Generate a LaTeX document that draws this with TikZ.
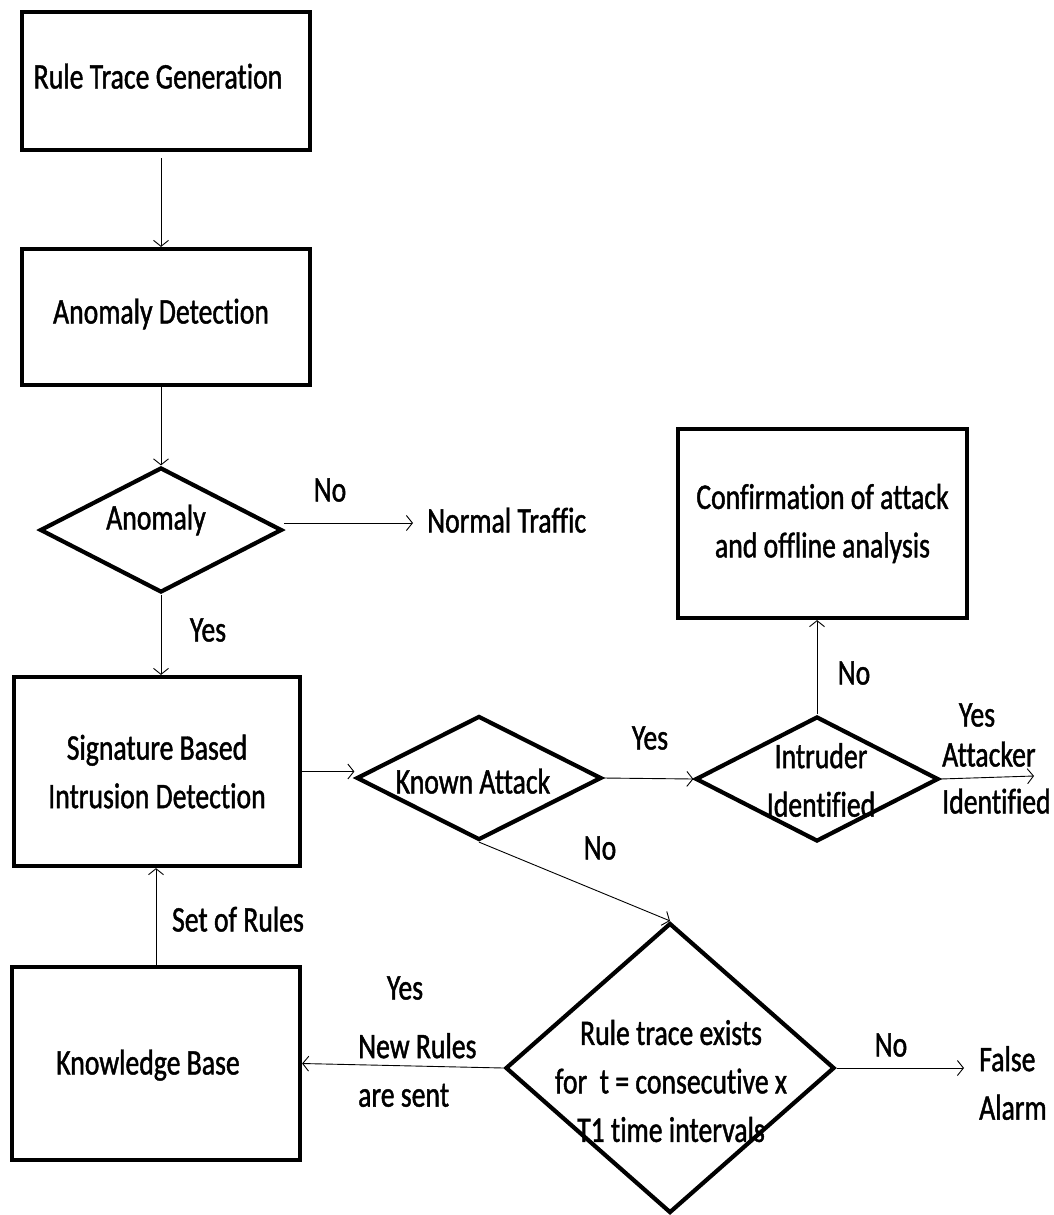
\documentclass[tikz,border=0pt]{standalone}
\usepackage{fontspec}
\setmainfont{Carlito}[FakeStretch=0.77,FakeBold=1.2,Ligatures=NoCommon]
\usetikzlibrary{arrows.meta,shapes.geometric}
\begin{document}
\begin{tikzpicture}[x=1pt,y=-1pt,
  txt/.style={font=\fontsize{36}{48.5}\selectfont,inner sep=0pt,align=center},
  one/.style={txt,text height=23pt,text depth=0pt},
  box/.style={draw,line width=4.2pt,inner sep=0pt,txt},
  dia/.style={draw,diamond,line width=4.2pt,inner sep=0pt},
  conn/.style={line width=0.9pt,-{Straight Barb[length=6pt,width=15pt,line width=0.9pt]}}]
\useasboundingbox[fill=white] (0,0) rectangle (1054,1215);

% boxes
\node[box,minimum width=288pt,minimum height=138pt] (rtg) at (166,81) {};
\node[one] (rtgt) at (158,77) {Rule Trace Generation};
\node[box,minimum width=288pt,minimum height=136pt] (ad) at (166,317) {};
\node[one] (adt) at (161,312) {Anomaly Detection};
\node[box,minimum width=286pt,minimum height=189pt] (sig) at (157,771.5) {Signature Based\\Intrusion Detection};
\node[box,minimum width=289pt,minimum height=189pt] (conf) at (822.5,523.5) {Confirmation of attack\\and offline analysis};
\node[box,minimum width=288pt,minimum height=193pt] (kb) at (156,1063.5) {};
\node[one] (kbt) at (148,1063) {Knowledge Base};

% diamonds
\node[dia,minimum width=242pt,minimum height=125pt] (anom) at (161,530) {};
\node[dia,minimum width=245pt,minimum height=124pt] (known) at (479,778) {};
\node[dia,minimum width=243pt,minimum height=125pt] (intr) at (817,779) {};
\node[dia,minimum width=329pt,minimum height=290pt] (rule) at (670,1068) {};

% diamond texts
\node[one] (anomt) at (156,518) {Anomaly};
\node[one] (knownt) at (473,782) {Known Attack};
\node[txt] (intrt) at (821,780) {Intruder\\Identified};
\node[txt] (rulet) at (671,1081) {Rule trace exists\\for\ \ t = consecutive x\\T1 time intervals};

% labels
\node[one] (l1) at (330,490) {No};
\node[one,anchor=west] (nt) at (427,521) {Normal Traffic};
\node[one] (l2) at (208,630) {Yes};
\node[one] (l3) at (650,738) {Yes};
\node[one] (l4) at (854,673) {No};
\node[one] (l5) at (977,715) {Yes};
\node[one,anchor=west] (l6) at (942,755) {Attacker};
\node[one,anchor=west] (l7) at (942,802) {Identified};
\node[one] (l8) at (600,848) {No};
\node[one] (l9) at (891,1045) {No};
\node[txt,align=left,anchor=west] (fa) at (979,1083) {False\\Alarm};
\node[one] (l10) at (405,988) {Yes};
\node[txt,align=left,anchor=west] (nr) at (358,1070) {New Rules\\are sent};
\node[one] (sr) at (238,920) {Set of Rules};

\coordinate (attk) at (1034,776);

% connectors
\draw[conn] ([yshift=-6pt]rtg.south -| anom.north) -- (ad.north -| anom.north);
\draw[conn] (ad.south -| anom.north) -- (anom.north);
\draw[conn] ([yshift=7pt]anom.east) -- ([xshift=-14pt,yshift=-2pt]nt.west);
\draw[conn] (anom.south) -- (anom.south |- sig.north);
\draw[conn] (sig.east) -- (sig.east -| known.west);
\draw[conn] (known.east) -- (intr.west);
\draw[conn] (intr.north) -- (intr.north |- conf.south);
\draw[conn] (intr.east) -- (attk);
\draw[conn] (known.south) -- (rule.north);
\draw[conn] (rule.east) -- ([xshift=-15pt]fa.west |- rule.east);
\draw[conn] (rule.west) -- (kb.east);
\draw[conn] (kb.north) -- (kb.north |- sig.south);
\end{tikzpicture}
\end{document}
